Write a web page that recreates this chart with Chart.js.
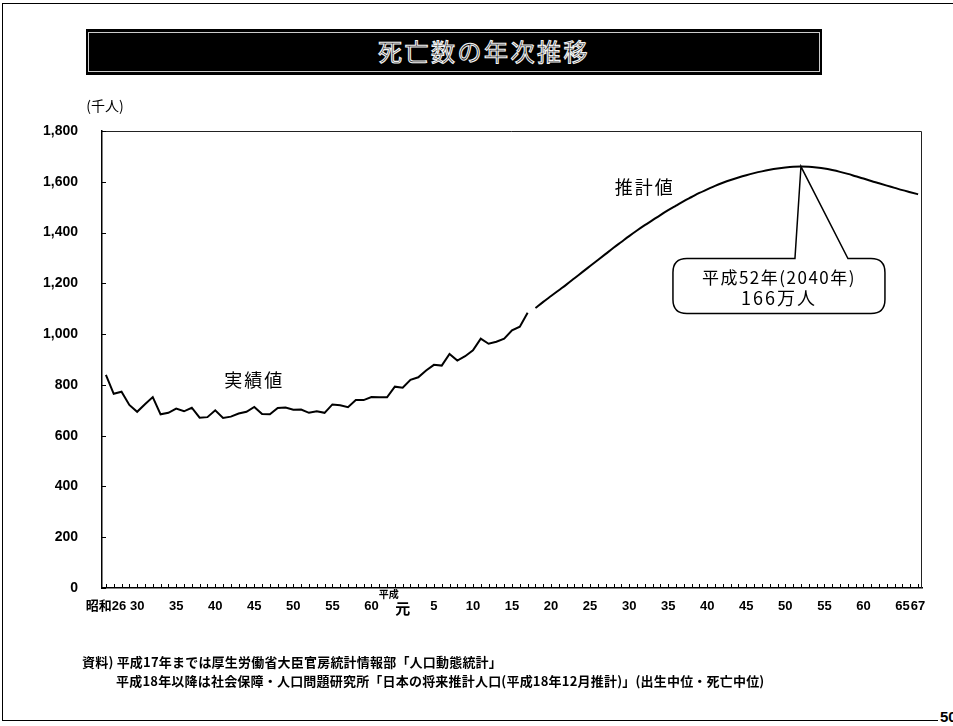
<!DOCTYPE html>
<html lang="ja">

<head>
    <meta charset="UTF-8">
    <title>死亡数の年次推移</title>
    <script src="https://cdn.jsdelivr.net/npm/chart.js"></script>
    <style>
        body { margin: 0; background: #fff; font-family: "Noto Sans CJK JP", sans-serif; }
        #page { position: relative; width: 953px; height: 726px; overflow: hidden; }
        #frame { position: absolute; left: 2px; top: 3px; width: 980px; height: 716px; border: 1px solid #000; }
        #banner { position: absolute; left: 86px; top: 29px; width: 736px; height: 46px; background: #000; }
        #banner .inner { position: absolute; left: 2px; top: 3px; right: 2px; bottom: 3px; border: 1px solid #ccc; }
        #banner .title { position: absolute; left: 60px; right: 0; top: 7px; text-align: center; color: #111;
            -webkit-text-stroke: 1.1px #f4f4f4; font-size: 24px; letter-spacing: 2.5px; line-height: 30px; }
        #chart { position: absolute; left: 0; top: 0; }
        .note { position: absolute; font-size: 13px; letter-spacing: 0.2px; font-weight: bold; color: #000; white-space: nowrap; line-height: 16px; }
        #pageNo { position: absolute; left: 938px; top: 708px; font: bold 15px "Liberation Sans", sans-serif; background: #fff; padding-left: 2px; }
    </style>
</head>

<body>
    <div id="page">
        <div id="frame"></div>
        <div id="banner">
            <div class="inner"></div>
            <div class="title">死亡数の年次推移</div>
        </div>
        <canvas id="chart" width="953" height="726"></canvas>
        <div class="note" style="left:82px; top:654px;">資料) 平成17年までは厚生労働省大臣官房統計情報部「人口動態統計」</div>
        <div class="note" style="left:116px; top:673px;">平成18年以降は社会保障・人口問題研究所「日本の将来推計人口(平成18年12月推計)」(出生中位・死亡中位)</div>
        <div id="pageNo">50</div>
    </div>
    <script>
        // categories: calendar years 1951 (昭和26) .. 2055 (平成67)
        const years = [];
        for (let y = 1951; y <= 2055; y++) years.push(y);

        // 実績値 1951-2005 (千人)
        const actualDeaths = [
            839, 765, 773, 721, 694, 724, 752, 684, 690, 707,
            696, 710, 671, 673, 700, 670, 675, 687, 694, 713,
            685, 684, 709, 711, 702, 703, 690, 696, 690, 723,
            720, 712, 740, 740, 752, 751, 751, 793, 789, 820,
            830, 857, 879, 876, 922, 896, 913, 936, 982, 962,
            970, 982, 1015, 1029, 1084
        ];

        // 推計値 2006-2055 (千人)
        const projectedDeaths = [
            1103, 1127, 1150, 1173, 1196, 1220, 1244, 1268, 1292, 1316,
            1340, 1363, 1386, 1408, 1429, 1449, 1469, 1488, 1506, 1524,
            1540, 1556, 1570, 1584, 1596, 1607, 1617, 1626, 1634, 1641,
            1647, 1652, 1656, 1659, 1660, 1659, 1656, 1652, 1646, 1639,
            1631, 1622, 1613, 1603, 1594, 1585, 1576, 1567, 1559, 1551
        ];

        // x axis labels (Japanese era years)
        const tickYears = [1951, 1955, 1960, 1965, 1970, 1975, 1980, 1985, 1989, 1993, 1998, 2003,
            2008, 2013, 2018, 2023, 2028, 2033, 2038, 2043, 2048, 2053, 2055];
        const tickLabels = ['昭和26', '30', '35', '40', '45', '50', '55', '60', '元', '5', '10', '15',
            '20', '25', '30', '35', '40', '45', '50', '55', '60', '65', '67'];

        const yMax = 1800;
        const yStep = 200;
        const peakYear = 2040;
        const peakValue = 1660;

        const FONT = '"Liberation Sans", "Noto Sans CJK JP", sans-serif';
        const JP = '"Noto Sans CJK JP", sans-serif';

        const actualData = actualDeaths.concat(projectedDeaths.map(() => null));
        const projectedData = actualDeaths.map(() => null).concat(projectedDeaths);

        // extra drawing: frame, inward ticks, labels and the callout
        const decorations = {
            id: 'decorations',
            afterDraw(chart) {
                const ctx = chart.ctx;
                const area = chart.chartArea;
                const xs = chart.scales.x;
                const ys = chart.scales.y;
                ctx.save();

                // top and right frame
                ctx.strokeStyle = '#222';
                ctx.lineWidth = 1;
                ctx.beginPath();
                ctx.moveTo(area.left, area.top + 0.5);
                ctx.lineTo(area.right - 0.5, area.top + 0.5);
                ctx.lineTo(area.right - 0.5, area.bottom);
                ctx.stroke();

                // inward tick marks
                ctx.strokeStyle = '#000';
                ctx.beginPath();
                ys.ticks.forEach(t => {
                    const py = Math.round(ys.getPixelForValue(t.value)) + 0.5;
                    ctx.moveTo(area.left, py);
                    ctx.lineTo(area.left + 4, py);
                });
                years.forEach((y, i) => {
                    const px = Math.round(xs.getPixelForValue(i)) + 0.5;
                    ctx.moveTo(px, area.bottom);
                    ctx.lineTo(px, area.bottom - 4);
                });
                ctx.stroke();

                // unit
                ctx.fillStyle = '#000';
                ctx.textAlign = 'center';
                ctx.textBaseline = 'middle';
                ctx.font = '14px ' + JP;
                ctx.fillText('(千人)', 105, 106);

                // 平成 above 元
                const gx = xs.getPixelForValue(years.indexOf(1989));
                ctx.font = 'bold 10px ' + JP;
                ctx.fillText('平成', gx - 14, area.bottom + 6);

                // series labels
                ctx.font = '18px ' + JP;
                ctx.letterSpacing = '2px';
                ctx.fillText('実績値', xs.getPixelForValue(years.indexOf(1970)), ys.getPixelForValue(819));
                ctx.fillText('推計値', xs.getPixelForValue(years.indexOf(2020)), ys.getPixelForValue(1579));

                // callout pointing at the peak
                const px = xs.getPixelForValue(years.indexOf(peakYear));
                const py = ys.getPixelForValue(peakValue);
                const L = px - 128, R = px + 84, T = py + 92, B = py + 147, r = 14;
                ctx.beginPath();
                ctx.moveTo(px - 6, T);
                ctx.lineTo(px, py);
                ctx.lineTo(px + 47, T);
                ctx.lineTo(R - r, T);
                ctx.quadraticCurveTo(R, T, R, T + r);
                ctx.lineTo(R, B - r);
                ctx.quadraticCurveTo(R, B, R - r, B);
                ctx.lineTo(L + r, B);
                ctx.quadraticCurveTo(L, B, L, B - r);
                ctx.lineTo(L, T + r);
                ctx.quadraticCurveTo(L, T, L + r, T);
                ctx.closePath();
                ctx.fillStyle = '#fff';
                ctx.fill();
                ctx.lineWidth = 1.5;
                ctx.strokeStyle = '#000';
                ctx.stroke();

                ctx.fillStyle = '#000';
                ctx.font = '17px ' + JP;
                ctx.letterSpacing = '1.5px';
                ctx.fillText('平成52年(2040年)', (L + R) / 2, T + 19);
                ctx.font = '18px ' + JP;
                ctx.letterSpacing = '2px';
                ctx.fillText('166万人', (L + R) / 2, T + 40);
                ctx.restore();
            }
        };

        new Chart(document.getElementById('chart'), {
            type: 'line',
            data: {
                labels: years,
                datasets: [{
                    label: '実績値',
                    data: actualData,
                    borderColor: '#000',
                    borderWidth: 2,
                    pointRadius: 0,
                    tension: 0,
                    spanGaps: false
                }, {
                    label: '推計値',
                    data: projectedData,
                    borderColor: '#000',
                    borderWidth: 2,
                    pointRadius: 0,
                    tension: 0.4,
                    cubicInterpolationMode: 'monotone',
                    spanGaps: false
                }]
            },
            options: {
                responsive: false,
                animation: false,
                layout: { padding: { left: 0, right: 31, top: 131, bottom: 98 } },
                plugins: {
                    legend: { display: false },
                    tooltip: { enabled: false }
                },
                scales: {
                    x: {
                        type: 'category',
                        offset: true,
                        grid: { display: false, drawTicks: false },
                        border: { display: true, color: '#000', width: 1.5 },
                        afterFit: s => { s.height = 40; },
                        ticks: {
                            autoSkip: false,
                            maxRotation: 0,
                            minRotation: 0,
                            padding: 11,
                            color: '#000',
                            font: c => years[c.index] === 1989
                                ? { family: JP, size: 15, weight: 'bold' }
                                : { family: FONT, size: 13, weight: 'bold' },
                            callback: (v, i) => {
                                const k = tickYears.indexOf(years[i]);
                                return k >= 0 ? tickLabels[k] : '';
                            }
                        }
                    },
                    y: {
                        min: 0,
                        max: yMax,
                        grid: { display: false, drawTicks: false },
                        border: { display: true, color: '#000', width: 1.5 },
                        afterFit: s => { s.width = 102; },
                        ticks: {
                            stepSize: yStep,
                            padding: 24,
                            color: '#000',
                            font: { family: FONT, size: 14, weight: 'bold' },
                            callback: v => v.toLocaleString('en-US')
                        }
                    }
                }
            },
            plugins: [decorations]
        });
    </script>
</body>

</html>
